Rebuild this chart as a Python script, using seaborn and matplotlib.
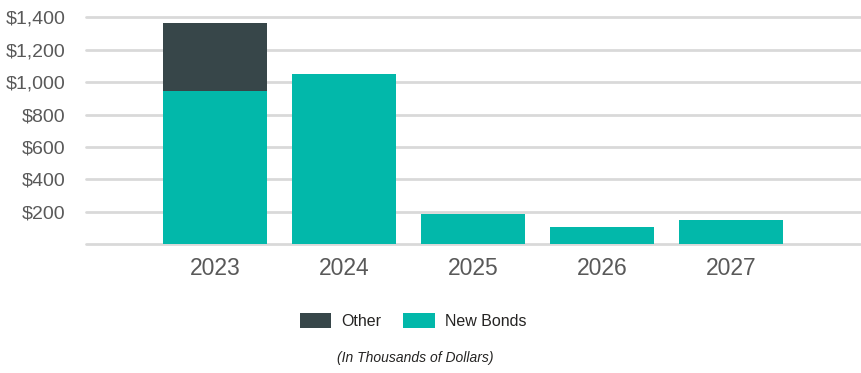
import matplotlib
matplotlib.use("Agg")
import matplotlib.pyplot as plt
import seaborn as sns
import pandas as pd

years = ["2023", "2024", "2025", "2026", "2027"]
new_bonds = [944, 1051, 185, 105, 152]
other = [422, 0, 0, 0, 0]
y_ticks = [200, 400, 600, 800, 1000, 1200, 1400]

TEAL = "#02B8AA"
DARK = "#374649"
GRID = "#D9D9D9"
TEXT = "#595959"

sns.set_theme(style="white")
plt.rcParams["font.family"] = ["Liberation Sans Narrow", "Liberation Sans", "DejaVu Sans"]

df = pd.DataFrame({
    "year": years,
    "New Bonds": new_bonds,
    "Other": other,
})
df["total"] = df["New Bonds"] + df["Other"]

fig = plt.figure(figsize=(8.61, 3.73), dpi=100)
ax = fig.add_axes([86 / 861, (373 - 244.3) / 373, (860 - 86) / 861, (244.3 - 17.3) / 373])

# stacked bars: totals first (Other on top), then New Bonds over the lower part
sns.barplot(data=df, x="year", y="total", color=DARK, width=0.8,
            saturation=1, ax=ax, label="Other", zorder=3, linewidth=0)
sns.barplot(data=df, x="year", y="New Bonds", color=TEAL, width=0.8,
            saturation=1, ax=ax, label="New Bonds", zorder=3, linewidth=0)

ax.set_xlim(-1, 5)
ax.set_ylim(0, 1400)
ax.set_yticks(y_ticks)
ax.set_yticklabels([f"${v:,}" for v in y_ticks])
for v in [0] + y_ticks:
    ax.axhline(v, color=GRID, lw=2, zorder=1, clip_on=False)

for s in ax.spines.values():
    s.set_visible(False)
ax.tick_params(axis="y", length=0, pad=15, labelsize=14, labelcolor=TEXT)
ax.tick_params(axis="x", length=0, pad=9, labelsize=16.5, labelcolor=TEXT)
ax.set_xlabel("")
ax.set_ylabel("")

handles, labels = ax.get_legend_handles_labels()
if ax.get_legend() is not None:
    ax.get_legend().remove()
leg = fig.legend(handles, labels, loc="center", bbox_to_anchor=(413 / 861, 1 - 321 / 373),
                 ncol=2, frameon=False, fontsize=11.5, handlelength=1.95, handleheight=1.1,
                 handletextpad=0.65, columnspacing=1.4)
for t in leg.get_texts():
    t.set_color("#252423")

fig.text(415 / 861, 1 - 358 / 373, "(In Thousands of Dollars)", ha="center", va="center",
         fontsize=10, style="italic", color="#252423")

fig.savefig("out.png", dpi=100, facecolor="white")
